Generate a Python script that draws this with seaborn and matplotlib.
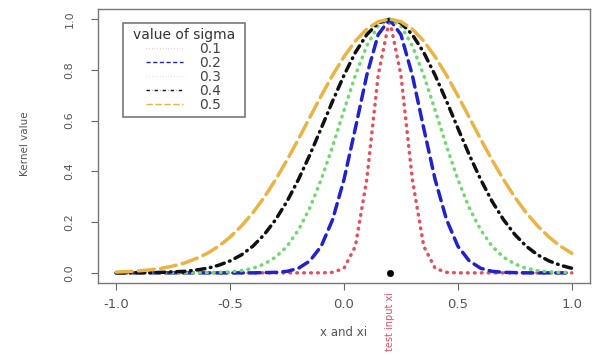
import numpy as np
import pandas as pd
import matplotlib
matplotlib.use("Agg")
import matplotlib.pyplot as plt
import seaborn as sns
from matplotlib.lines import Line2D
from matplotlib.transforms import blended_transform_factory

sns.set_style("white")
plt.rcParams['font.family'] = ['DejaVu Sans']

x_vals = [-1.00, -0.95, -0.90, -0.85, -0.80, -0.75, -0.70, -0.65, -0.60, -0.55,
          -0.50, -0.45, -0.40, -0.35, -0.30, -0.25, -0.20, -0.15, -0.10, -0.05,
          0.00, 0.05, 0.10, 0.15, 0.20, 0.25, 0.30, 0.35, 0.40, 0.45,
          0.50, 0.55, 0.60, 0.65, 0.70, 0.75, 0.80, 0.85, 0.90, 0.95, 1.00]

k_01 = [0, 0, 0, 0, 0, 0, 0, 0, 0, 0,
        0, 0, 0, 0, 0, 0, 0, 0, 0, 0.002,
        0.018, 0.105, 0.368, 0.779, 1.000, 0.779, 0.368, 0.105, 0.018, 0.002,
        0, 0, 0, 0, 0, 0, 0, 0, 0, 0, 0]
k_02 = [0, 0, 0, 0, 0, 0, 0, 0, 0, 0,
        0, 0, 0, 0.001, 0.002, 0.006, 0.018, 0.047, 0.105, 0.210,
        0.368, 0.570, 0.779, 0.939, 1.000, 0.939, 0.779, 0.570, 0.368, 0.210,
        0.105, 0.047, 0.018, 0.006, 0.002, 0.001, 0, 0, 0, 0, 0]
k_03 = [0, 0, 0, 0, 0, 0, 0, 0, 0.001, 0.002,
        0.004, 0.009, 0.018, 0.035, 0.062, 0.105, 0.169, 0.256, 0.368, 0.499,
        0.641, 0.779, 0.895, 0.973, 1.000, 0.973, 0.895, 0.779, 0.641, 0.499,
        0.368, 0.256, 0.169, 0.105, 0.062, 0.035, 0.018, 0.009, 0.004, 0.002, 0.001]
k_04 = [0.000, 0.000, 0.001, 0.001, 0.002, 0.004, 0.006, 0.011, 0.018, 0.030,
        0.047, 0.071, 0.105, 0.151, 0.210, 0.282, 0.368, 0.465, 0.570, 0.677,
        0.779, 0.869, 0.939, 0.985, 1.000, 0.985, 0.939, 0.869, 0.779, 0.677,
        0.570, 0.465, 0.368, 0.282, 0.210, 0.151, 0.105, 0.071, 0.047, 0.030, 0.018]
k_05 = [0.003, 0.005, 0.008, 0.012, 0.018, 0.027, 0.039, 0.056, 0.077, 0.105,
        0.141, 0.185, 0.237, 0.298, 0.368, 0.445, 0.527, 0.613, 0.698, 0.779,
        0.852, 0.914, 0.961, 0.990, 1.000, 0.990, 0.961, 0.914, 0.852, 0.779,
        0.698, 0.613, 0.527, 0.445, 0.368, 0.298, 0.237, 0.185, 0.141, 0.105, 0.077]

sigma_labels = ["0.1", "0.2", "0.3", "0.4", "0.5"]
series = [k_01, k_02, k_03, k_04, k_05]
test_x = [0.2]
test_y = [0.0]

colors = ["#E2505E", "#2222CC", "#6FD86F", "#111111", "#E9B445"]
styles = [(0, (0.2, 1.8)), (0, (3.0, 1.8)), (0, (0.2, 1.8)),
          (0, (2.4, 1.6, 0.2, 1.6)), (0, (4.6, 1.8))]

fig = plt.figure(figsize=(5.94, 3.56), dpi=100)
ax = fig.add_axes([98/594, 1 - 283/356, (590 - 98)/594, (283 - 9)/356])

for lab, vals, c, ls in zip(sigma_labels, series, colors, styles):
    df = pd.DataFrame({"x": x_vals, "k": vals})
    sns.lineplot(data=df, x="x", y="k", ax=ax, color=c, lw=2.5,
                 linestyle=ls, dash_capstyle='round', solid_capstyle='round')

sns.scatterplot(x=test_x, y=test_y, ax=ax, color="black", s=22, zorder=5,
                edgecolor="black")

ax.set_xlim(-1.08, 1.08)
ax.set_ylim(-0.04, 1.04)
ax.set_xticks([-1.0, -0.5, 0.0, 0.5, 1.0])
ax.set_xticklabels(["-1.0", "-0.5", "0.0", "0.5", "1.0"])
ax.set_yticks([0.0, 0.2, 0.4, 0.6, 0.8, 1.0])
ax.set_yticklabels(["0.0", "0.2", "0.4", "0.6", "0.8", "1.0"], rotation=90,
                   va="center")
ax.tick_params(axis="both", direction="out", length=5, width=0.8,
               colors="#666666", labelcolor="#555555",
               bottom=True, left=True, pad=6)
ax.tick_params(axis="x", labelsize=9.5)
ax.tick_params(axis="y", labelsize=8, pad=12)
for sp in ax.spines.values():
    sp.set_color("#777777")
    sp.set_linewidth(1.0)

ax.set_xlabel("")
ax.set_ylabel("")
fig.text(344/594, 1 - 333/356, "x and xi", ha="center", va="center",
         fontsize=8.5, color="#555555")
fig.text(25/594, 1 - 144/356, "Kernel value", ha="center", va="center",
         rotation=90, fontsize=7.5, color="#555555")

trans = blended_transform_factory(ax.transData, ax.transAxes)
ax.text(0.2, -0.142, "test input xi", transform=trans, rotation=90,
        ha="center", va="center", fontsize=7, color="#E2505E")

handles = [Line2D([0], [0], color=c, lw=1.0, linestyle=ls)
           for c, ls in zip(colors, styles)]
leg = ax.legend(handles, sigma_labels, title="value of sigma",
                loc="upper left", bbox_to_anchor=((123 - 98)/492, 1 - (23 - 9)/274),
                fontsize=10, title_fontsize=10, frameon=True, fancybox=False,
                handlelength=2.6, handletextpad=1.2, labelspacing=0.0,
                borderpad=0.35, borderaxespad=0)
leg.get_frame().set_edgecolor("#555555")
leg.get_frame().set_linewidth(1.2)
for t in leg.get_texts():
    t.set_color("#444444")
leg.get_title().set_color("#333333")
fig.canvas.draw()
bb = leg.get_window_extent()
# widen the frame slightly to match reference box width
leg._legend_box.set_width(bb.width + 0)

fig.savefig("out.png", dpi=100)
